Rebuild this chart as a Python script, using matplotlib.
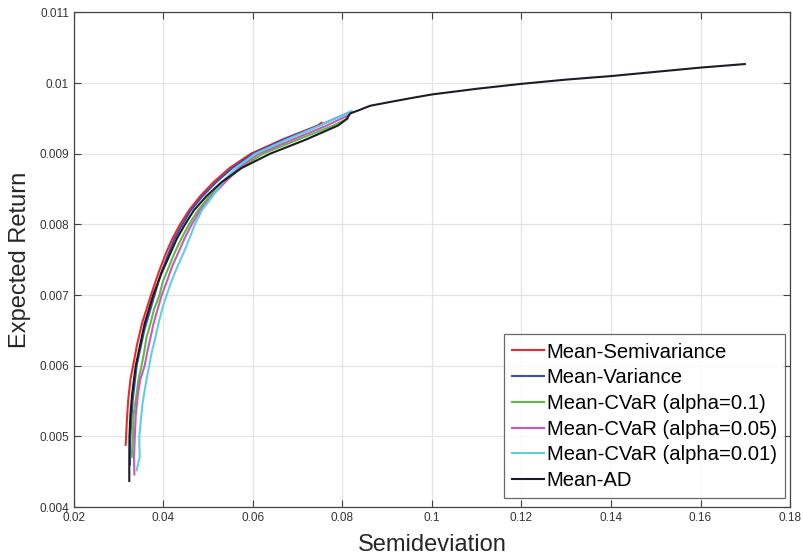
import numpy as np
import matplotlib
matplotlib.use("Agg")
import matplotlib.pyplot as plt

plt.rcParams['font.family'] = ['Liberation Sans', 'DejaVu Sans']

# frontier points (expected return, semideviation)
semivar_ret = [0.00488, 0.00520, 0.00550, 0.00580, 0.00600, 0.00630, 0.00660, 0.00700,
               0.00730, 0.00760, 0.00780, 0.00800, 0.00820, 0.00840, 0.00860, 0.00880,
               0.00900, 0.00920, 0.00940, 0.00944]
semivar_dev = [0.03155, 0.03180, 0.03210, 0.03260, 0.03320, 0.03410, 0.03520, 0.03720,
               0.03880, 0.04060, 0.04200, 0.04370, 0.04570, 0.04820, 0.05120, 0.05480,
               0.05950, 0.06650, 0.07450, 0.07530]

var_ret = [0.00460, 0.00500, 0.00550, 0.00600, 0.00650, 0.00700, 0.00730, 0.00760,
           0.00780, 0.00800, 0.00820, 0.00840, 0.00860, 0.00880, 0.00900, 0.00920,
           0.00940, 0.00960]
var_dev = [0.03250, 0.03260, 0.03310, 0.03400, 0.03570, 0.03800, 0.03940, 0.04120,
           0.04250, 0.04420, 0.04610, 0.04870, 0.05180, 0.05540, 0.06000, 0.06680,
           0.07480, 0.08200]

cvar10_ret = [0.00471, 0.00500, 0.00530, 0.00560, 0.00580, 0.00600, 0.00620, 0.00640,
              0.00660, 0.00680, 0.00700, 0.00720, 0.00740, 0.00760, 0.00780, 0.00800,
              0.00820, 0.00840, 0.00860, 0.00880, 0.00900, 0.00920, 0.00940, 0.00950]
cvar10_dev = [0.03290, 0.03320, 0.03330, 0.03400, 0.03440, 0.03510, 0.03570, 0.03620,
              0.03710, 0.03790, 0.03910, 0.03990, 0.04120, 0.04250, 0.04400, 0.04570,
              0.04770, 0.05030, 0.05370, 0.05720, 0.06220, 0.07000, 0.07800, 0.08120]

cvar05_ret = [0.00446, 0.00470, 0.00500, 0.00530, 0.00560, 0.00580, 0.00600, 0.00620,
              0.00640, 0.00660, 0.00680, 0.00700, 0.00720, 0.00740, 0.00760, 0.00780,
              0.00800, 0.00820, 0.00840, 0.00860, 0.00880, 0.00900, 0.00920, 0.00940,
              0.00955]
cvar05_dev = [0.03350, 0.03340, 0.03360, 0.03380, 0.03430, 0.03480, 0.03580, 0.03640,
              0.03710, 0.03780, 0.03870, 0.03960, 0.04080, 0.04190, 0.04330, 0.04470,
              0.04630, 0.04820, 0.05080, 0.05380, 0.05680, 0.06120, 0.06880, 0.07650,
              0.08150]

cvar01_ret = [0.00452, 0.00471, 0.00490, 0.00500, 0.00520, 0.00533, 0.00550, 0.00580,
              0.00600, 0.00620, 0.00640, 0.00660, 0.00680, 0.00700, 0.00720, 0.00740,
              0.00760, 0.00780, 0.00800, 0.00820, 0.00840, 0.00860, 0.00880, 0.00900,
              0.00920, 0.00940, 0.00960]
cvar01_dev = [0.03400, 0.03470, 0.03460, 0.03460, 0.03490, 0.03510, 0.03540, 0.03620,
              0.03680, 0.03740, 0.03820, 0.03890, 0.03970, 0.04070, 0.04180, 0.04310,
              0.04450, 0.04580, 0.04700, 0.04860, 0.05100, 0.05320, 0.05620, 0.06050,
              0.06750, 0.07500, 0.08200]

ad_ret = [0.00437, 0.00470, 0.00500, 0.00530, 0.00560, 0.00600, 0.00630, 0.00660,
          0.00700, 0.00730, 0.00760, 0.00780, 0.00800, 0.00820, 0.00840, 0.00860,
          0.00880, 0.00900, 0.00920, 0.00940, 0.00949, 0.00957, 0.00962, 0.00968,
          0.00974, 0.00979, 0.00984, 0.00992, 0.00999, 0.01005, 0.01010, 0.01016,
          0.01022, 0.01027]
ad_dev = [0.03236, 0.03236, 0.03240, 0.03260, 0.03300, 0.03380, 0.03480, 0.03580,
          0.03770, 0.03950, 0.04160, 0.04300, 0.04480, 0.04680, 0.04960, 0.05300,
          0.05750, 0.06380, 0.07180, 0.07900, 0.08090, 0.08170, 0.08380, 0.08620,
          0.09120, 0.09550, 0.10000, 0.11000, 0.12000, 0.13000, 0.14000, 0.15000,
          0.16000, 0.16990]

labels = ['Mean-Semivariance', 'Mean-Variance', 'Mean-CVaR (alpha=0.1)',
          'Mean-CVaR (alpha=0.05)', 'Mean-CVaR (alpha=0.01)', 'Mean-AD']
colors = ['#e8292d', '#3c4ea8', '#62b845', '#c45bbf', '#62cde0', '#1c1c22']

fig = plt.figure(figsize=(8.04, 5.6), dpi=100)
ax = fig.add_axes([0.092, 0.0946, 0.8906, 0.8831])

series = [(semivar_dev, semivar_ret), (var_dev, var_ret), (cvar10_dev, cvar10_ret),
          (cvar05_dev, cvar05_ret), (cvar01_dev, cvar01_ret), (ad_dev, ad_ret)]
for (x, y), lab, c in zip(series, labels, colors):
    ax.plot(x, y, color=c, lw=1.5, label=lab)

ax.set_xlim(0.02, 0.18)
ax.set_ylim(0.004, 0.011)
ax.set_xticks(np.arange(0.02, 0.181, 0.02))
ax.set_yticks(np.arange(0.004, 0.0111, 0.001))
ax.set_xticklabels(['0.02', '0.04', '0.06', '0.08', '0.1', '0.12', '0.14', '0.16', '0.18'])
ax.set_yticklabels(['0.004', '0.005', '0.006', '0.007', '0.008', '0.009', '0.01', '0.011'])
ax.grid(True, color='#e3e3e3', lw=0.9)
ax.set_axisbelow(True)
ax.tick_params(direction='in', length=5, width=0.8, colors='#404040',
               labelsize=8.5, top=True, right=True, labelcolor='#333333')
for s in ax.spines.values():
    s.set_color('#444444')
    s.set_linewidth(0.9)

ax.set_xlabel('Semideviation', fontsize=17, color='#262626', labelpad=7)
ax.set_ylabel('Expected Return', fontsize=17, color='#262626', labelpad=6)

leg = ax.legend(loc='lower right', fontsize=14.6, handlelength=1.55, handletextpad=0.15,
                borderpad=0.4, labelspacing=0.33, fancybox=False,
                bbox_to_anchor=(0.993, 0.018), borderaxespad=0)
leg.get_frame().set_edgecolor('#444444')
leg.get_frame().set_linewidth(0.9)

fig.savefig('out.png', dpi=100)
